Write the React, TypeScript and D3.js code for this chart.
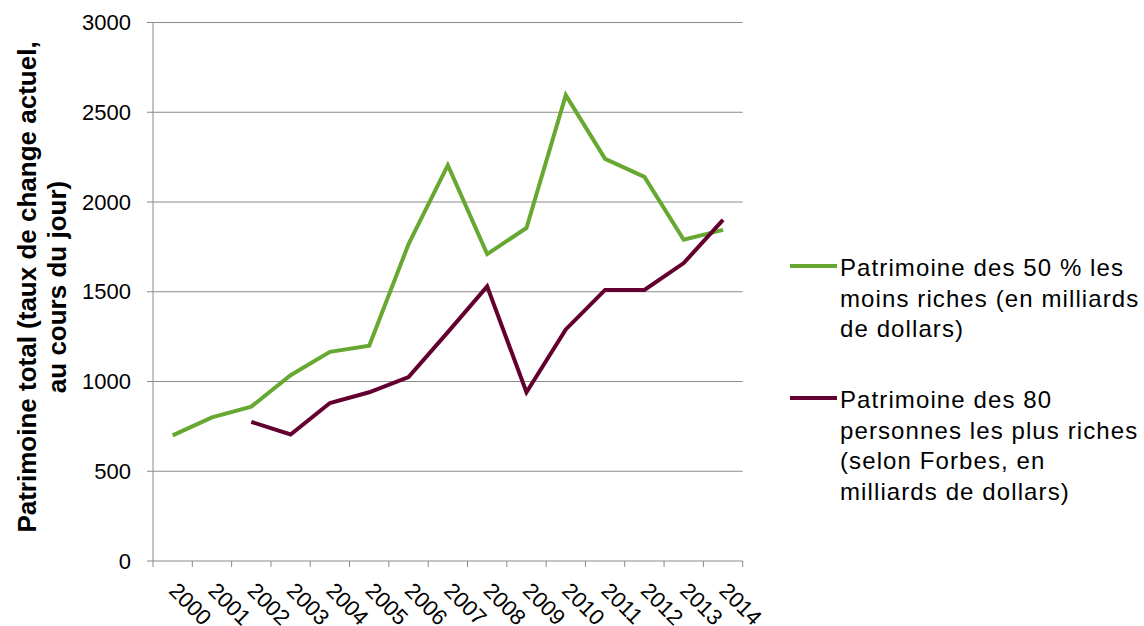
import React from "react";
import * as d3 from "d3";

const years = [
  "2000", "2001", "2002", "2003", "2004", "2005", "2006", "2007",
  "2008", "2009", "2010", "2011", "2012", "2013", "2014",
];
// bottom 50 % wealth (billions of dollars)
const poorest50 = [700, 800, 860, 1035, 1165, 1200, 1765, 2205, 1710, 1855, 2595, 2240, 2140, 1790, 1845];
// 80 richest people (Forbes)
const richest80 = [null, null, 775, 705, 880, 940, 1025, 1275, 1530, 940, 1290, 1510, 1510, 1660, 1900];
const yTicks = [0, 500, 1000, 1500, 2000, 2500, 3000];

const seriesNames = ["Patrimoine des 50 % les moins riches", "Patrimoine des 80 personnes les plus riches"];
const legendLines = [
  ["Patrimoine des 50 % les", "moins riches (en milliards", "de dollars)"],
  ["Patrimoine des 80", "personnes les plus riches", "(selon Forbes, en", "milliards de dollars)"],
];
const titleLines = ["Patrimoine total (taux de change actuel,", "au cours du jour)"];

const colors = ["#66a832", "#63002f"];
const gridColor = "#8a8a8a";
const font = "'Liberation Sans', Arial, sans-serif";

function App() {
  const left = 153;
  const right = 742.7;
  const top = 22.5;
  const bottom = 561;

  const x = d3.scaleBand().domain(years).range([left, right]);
  const y = d3.scaleLinear().domain([0, 3000]).range([bottom, top]);
  const bw = x.bandwidth();
  const cx = (yr: string) => (x(yr) as number) + bw / 2;

  const line = d3
    .line<number | null>()
    .defined((d) => d != null)
    .x((_, i) => cx(years[i]))
    .y((d) => y(d as number));

  const series = [poorest50, richest80];
  const boundaries = d3.range(years.length + 1).map((i) => left + i * bw);

  const legendTops = [276, 408];

  return (
    <svg
      width={1144}
      height={626}
      style={{ position: "absolute", left: 0, top: 0, background: "#fff" }}
      fontFamily={font}
    >
      {/* horizontal gridlines */}
      {yTicks.map((t) => (
        <g key={t}>
          <line x1={left - 6} x2={right} y1={y(t)} y2={y(t)} stroke={gridColor} strokeWidth={1} />
          <text x={131} y={y(t)} dy="0.35em" textAnchor="end" fontSize={22} fill="#000">
            {t}
          </text>
        </g>
      ))}
      {/* y axis */}
      <line x1={left} x2={left} y1={top} y2={bottom} stroke={gridColor} strokeWidth={1} />
      {/* x ticks */}
      {boundaries.map((bx, i) => (
        <line key={i} x1={bx} x2={bx} y1={bottom} y2={bottom + 6} stroke={gridColor} strokeWidth={1} />
      ))}
      {years.map((yr) => (
        <text
          key={yr}
          transform={`translate(${cx(yr) - 5},592) rotate(45)`}
          fontSize={22}
          fill="#000"
        >
          {yr}
        </text>
      ))}

      {/* y axis title */}
      {titleLines.map((t, i) => (
        <text
          key={i}
          transform={`translate(${36 + i * 30},287) rotate(-90)`}
          textAnchor="middle"
          fontSize={26}
          fontWeight="bold"
          fill="#000"
        >
          {t}
        </text>
      ))}

      {/* series */}
      {series.map((s, i) => (
        <path
          key={seriesNames[i]}
          d={line(s) as string}
          fill="none"
          stroke={colors[i]}
          strokeWidth={4}
          strokeLinejoin="miter"
        />
      ))}

      {/* legend */}
      {legendLines.map((lines, i) => (
        <g key={i}>
          <line
            x1={790}
            x2={837}
            y1={legendTops[i] - 10}
            y2={legendTops[i] - 10}
            stroke={colors[i]}
            strokeWidth={4}
          />
          {lines.map((l, j) => (
            <text
              key={j}
              x={840}
              y={legendTops[i] + j * 30.5}
              fontSize={24}
              letterSpacing={1.1}
              fill="#000"
            >
              {l}
            </text>
          ))}
        </g>
      ))}
    </svg>
  );
}

export default App;
